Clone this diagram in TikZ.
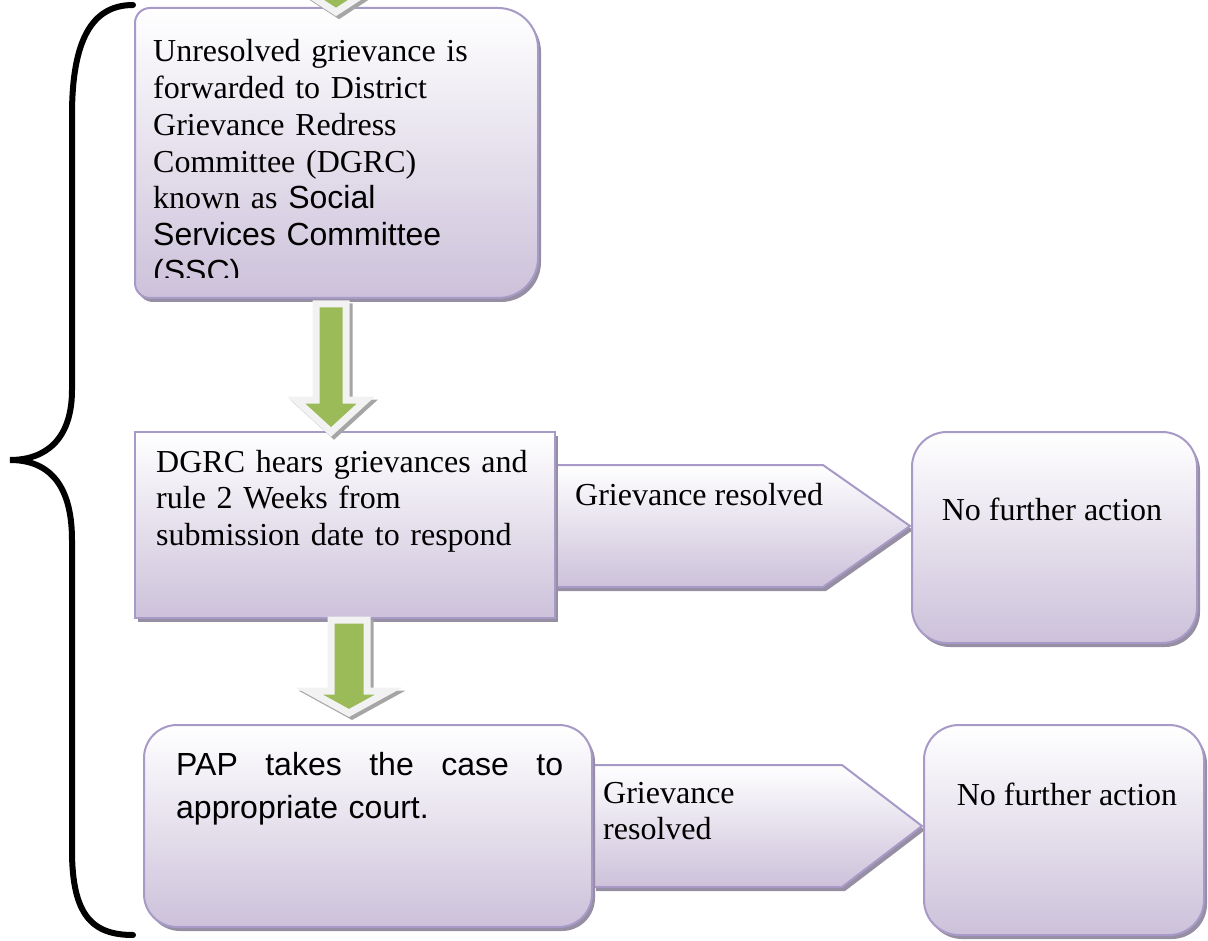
\documentclass[tikz,border=0pt]{standalone}
\usepackage{fontspec}
\setmainfont{Liberation Serif}
\newfontfamily\arialf{Liberation Sans}
\usetikzlibrary{shadows}
\definecolor{lavbot}{RGB}{204,193,218}
\definecolor{lavline}{RGB}{167,154,199}
\definecolor{lavshadow}{RGB}{150,142,162}
\definecolor{grn}{RGB}{155,187,89}
\definecolor{arrline}{RGB}{242,242,242}
\definecolor{arrshadow}{RGB}{165,165,165}
\newcommand\greenarrow[6]{%
  \path[fill=arrshadow, draw=arrshadow, line width=7pt, line join=miter, shift={(3,3)}]
    ({#1-#5},#2) -- ({#1+#5},#2) -- ({#1+#5},#3) -- ({#1+#6},#3) -- (#1,#4)
    -- ({#1-#6},#3) -- ({#1-#5},#3) -- cycle;
  \path[fill=grn, draw=arrline, line width=7pt, line join=miter]
    ({#1-#5},#2) -- ({#1+#5},#2) -- ({#1+#5},#3) -- ({#1+#6},#3) -- (#1,#4)
    -- ({#1-#6},#3) -- ({#1-#5},#3) -- cycle;
}
\tikzset{
  boxshadow/.style={drop shadow={shadow xshift=3pt, shadow yshift=-4pt, fill=lavshadow, opacity=1}},
  nbox/.style={draw=lavline, line width=2pt, top color=white, bottom color=lavbot, inner sep=0pt, boxshadow},
  pbox/.style={draw=lavline, line width=2pt, top color=white, bottom color=lavbot, boxshadow},
  txt/.style={anchor=base west, inner sep=0pt, text width=#1, align=left, font=\fontsize{32}{36.7}\selectfont},
  onetxt/.style={inner sep=0pt, font=\fontsize{32}{36.7}\selectfont},
}
\begin{document}
\begin{tikzpicture}[x=1pt,y=-1pt]
\useasboundingbox (0,0) rectangle (1208,941);
% brace
\draw[line width=6pt, line cap=round] (133,5) .. controls (92,5) and (72,40) .. (72,115)
  -- (72,390) .. controls (72,440) and (45,460) .. (10,460)
  .. controls (45,460) and (72,480) .. (72,540)
  -- (72,850) .. controls (72,915) and (92,935) .. (133,935);
% pentagons
\path[pbox] (555,465) -- (823,465) -- (910,526) -- (823,587) -- (555,587) -- cycle;
\path[pbox] (593,765) -- (842,765) -- (922,826) -- (842,887) -- (593,887) -- cycle;
% box 1
\path[pbox] (135,23) .. controls (135,14.7) and (141.7,8) .. (150,8) -- (498,8)
  .. controls (520.1,8) and (538,25.9) .. (538,48) -- (538,258)
  .. controls (538,280.1) and (520.1,298) .. (498,298) -- (150,298)
  .. controls (141.7,298) and (135,291.3) .. (135,283) -- cycle;
\coordinate (b1) at (336,153);
% boxes
\node[nbox, minimum width=420pt, minimum height=186pt] (b2) at (345,525) {};
\node[nbox, rounded corners=35pt, minimum width=285pt, minimum height=211pt] (nfa1) at (1054.5,537.5) {};
\node[nbox, rounded corners=33pt, minimum width=448pt, minimum height=202pt] (b3) at (368,826) {};
\node[nbox, rounded corners=35pt, minimum width=280pt, minimum height=210pt] (nfa2) at (1064,830) {};
% texts
\begin{scope}
\clip (135,8) rectangle (538,278);
\node[txt=380pt] (t1) at (153,62) {Unresolved grievance is\\forwarded to District\\Grievance Redress\\Committee (DGRC)\\known as {\arialf Social}\\{\arialf Services Committee}\\{\arialf (SSC)}};
\end{scope}
\node[txt=390pt] (t2) at (156,472) {DGRC hears grievances and\\rule 2 Weeks from\\submission date to respond};
\node[onetxt, anchor=base west] (t3) at (575,505) {Grievance resolved};
\node[onetxt, anchor=base] (t4) at (1052,520) {No further action};
\node[txt=400pt, font=\arialf\fontsize{32}{43}\selectfont] (t5) at (176,775) {\makebox[387pt][s]{PAP\hfill takes\hfill the\hfill case\hfill to}\\appropriate court.};
\node[txt=250pt] (t6) at (603,803) {Grievance\\resolved};
\node[onetxt, anchor=base] (t7) at (1067,805) {No further action};
% green arrows
\greenarrow{336}{-80}{-20}{12}{15}{49}
\greenarrow{331}{304}{400}{432}{15}{35}
\greenarrow{349}{620}{691}{713}{18}{40}
\end{tikzpicture}
\end{document}
